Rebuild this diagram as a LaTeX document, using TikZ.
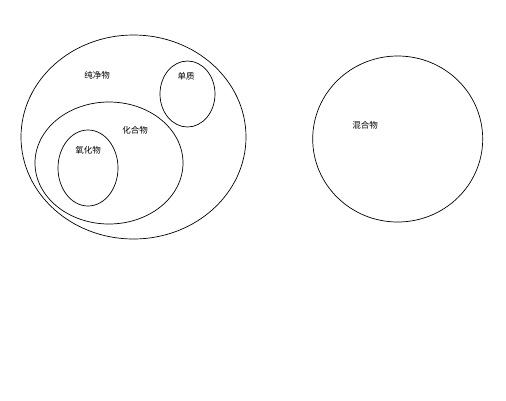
\documentclass[tikz,border=0pt]{standalone}
\usepackage{fontspec}
\newfontfamily\cjk{Noto Sans CJK SC}
\usetikzlibrary{shapes.geometric}
\begin{document}
\begin{tikzpicture}[x=1pt,y=-1pt,
  set/.style={draw=black,line width=0.7pt,ellipse,inner sep=0pt},
  lbl/.style={font=\cjk\fontsize{8.5}{10}\selectfont,inner sep=0pt}]
\useasboundingbox[fill=white] (0,0) rectangle (506,400);
\node[set,minimum width=225pt,minimum height=204pt] (pure) at (133.5,137) {};
\node[set,minimum width=55pt,minimum height=66pt] (elem) at (187.5,94) {};
\node[set,minimum width=148pt,minimum height=122pt] (comp) at (109,163) {};
\node[set,minimum width=60pt,minimum height=76pt] (oxide) at (88,168) {};
\node[set,minimum width=170pt,minimum height=166pt] (mix) at (397.7,139) {};
\node[lbl] (tpure) at (97,75) {纯净物};
\node[lbl] (telem) at (186,76) {单质};
\node[lbl] (tcomp) at (135,130) {化合物};
\node[lbl] (toxide) at (88,150) {氧化物};
\node[lbl] (tmix) at (365,125) {混合物};
\end{tikzpicture}
\end{document}
